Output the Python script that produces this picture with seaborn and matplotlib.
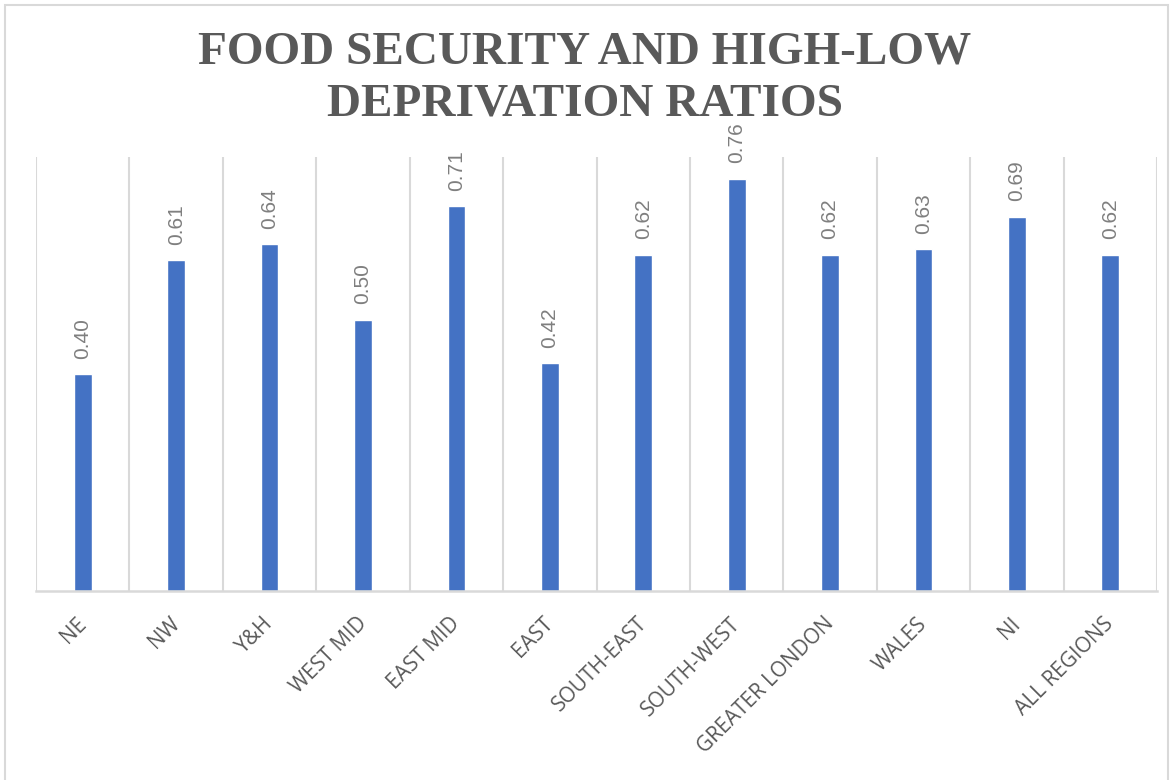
import matplotlib
matplotlib.use("Agg")
import matplotlib.pyplot as plt
from matplotlib.patches import Rectangle
from matplotlib.transforms import ScaledTranslation
import seaborn as sns
import pandas as pd

regions = ["NE", "NW", "Y&H", "WEST MID", "EAST MID", "EAST", "SOUTH-EAST",
           "SOUTH-WEST", "GREATER LONDON", "WALES", "NI", "ALL REGIONS"]
ratios = [0.40, 0.61, 0.64, 0.50, 0.71, 0.42, 0.62, 0.76, 0.62, 0.63, 0.69, 0.62]

df = pd.DataFrame({"region": regions, "ratio": ratios})

sns.set_theme(style="white")
plt.rcParams["font.family"] = ["Open Sans", "DejaVu Sans"]

fig = plt.figure(figsize=(11.7, 7.8), dpi=100)
ax = fig.add_axes([0.0308, 0.2423, 0.9581, 0.5564])

sns.barplot(data=df, x="region", y="ratio", color="#4472C4", width=0.19,
            saturation=1, ax=ax)

ax.set_ylim(0, 0.8)
ax.set_xlim(-0.5, len(regions) - 0.5)
ax.set_yticks([])
ax.set_xlabel("")
ax.set_ylabel("")

# category separators
for b in range(len(regions) + 1):
    ax.axvline(b - 0.5, color="#D9D9D9", lw=1.5, zorder=0)
for s in ["top", "right", "left"]:
    ax.spines[s].set_visible(False)
ax.spines["bottom"].set_color("#D9D9D9")
ax.spines["bottom"].set_linewidth(1.8)

ax.tick_params(axis="x", length=0, pad=12)
ax.set_xticks(range(len(regions)))
ax.set_xticklabels(regions, rotation=45, ha="right", rotation_mode="anchor",
                   fontsize=15, color="#595959")
shift = ScaledTranslation(-5 / 72, -4 / 72, fig.dpi_scale_trans)
for lab in ax.get_xticklabels():
    lab.set_transform(lab.get_transform() + shift)

for i, v in enumerate(ratios):
    ax.annotate(f"{v:.2f}", (i, v), xytext=(0, 11), textcoords="offset points",
                rotation=90, ha="center", va="bottom", fontsize=15,
                color="#7F7F7F", family=["Liberation Sans", "DejaVu Sans"])

fig.text(0.5, 0.899, "FOOD SECURITY AND HIGH-LOW\nDEPRIVATION RATIOS",
         ha="center", va="center", fontsize=34, fontweight="bold",
         color="#595959", family=["Liberation Serif", "DejaVu Serif"],
         linespacing=1.32)

fig.patches.append(Rectangle((0.004, -0.01), 0.994, 1.003, transform=fig.transFigure,
                             fill=False, edgecolor="#D9D9D9", lw=1.5))

fig.savefig("out.png", dpi=100, facecolor="white")
